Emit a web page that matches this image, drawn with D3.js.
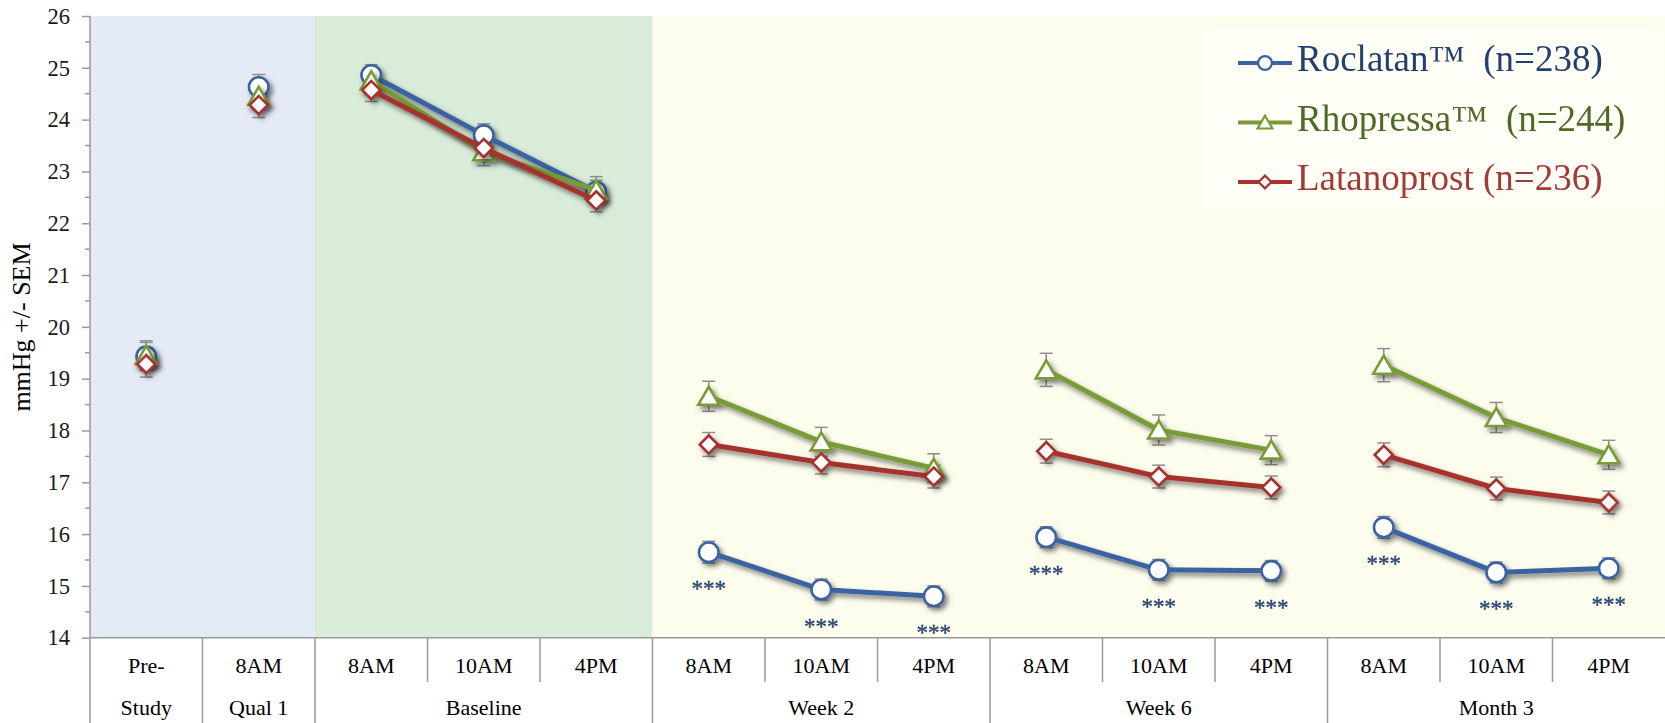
<!DOCTYPE html>
<html>
<head>
<meta charset="utf-8">
<script src="https://cdn.jsdelivr.net/npm/d3@7"></script>
<style>
  html, body { margin: 0; padding: 0; background: #ffffff; }
  svg { display: block; font-family: "Liberation Serif", "Times New Roman", serif; }
</style>
</head>
<body>
<svg id="chart" width="1665" height="723"></svg>
<script>
// category labels, first row under the axis
const categories = ['Pre-', '8AM', '8AM', '10AM', '4PM', '8AM', '10AM', '4PM',
                    '8AM', '10AM', '4PM', '8AM', '10AM', '4PM'];
// second row: group name, first and last category index
const groups = [
    { name: 'Study', from: 0, to: 0 },
    { name: 'Qual 1', from: 1, to: 1 },
    { name: 'Baseline', from: 2, to: 4 },
    { name: 'Week 2', from: 5, to: 7 },
    { name: 'Week 6', from: 8, to: 10 },
    { name: 'Month 3', from: 11, to: 13 }
];
// shaded periods behind the plot
const periods = [
    { from: 0, to: 1, color: '#e4ebf7' },
    { from: 2, to: 4, color: '#d9ebd9' },
    { from: 5, to: 13, color: '#fdfdee' }
];

const roclatan    = [19.43, 24.63, 24.86, 23.70, 22.61, 15.65, 14.93, 14.80, 15.94, 15.31, 15.29, 16.13, 15.26, 15.34];
const rhopressa   = [19.45, 24.45, 24.75, 23.38, 22.64, 18.66, 17.78, 17.27, 19.17, 18.01, 17.62, 19.26, 18.25, 17.53];
const latanoprost = [19.28, 24.28, 24.57, 23.45, 22.44, 17.73, 17.38, 17.11, 17.60, 17.11, 16.90, 17.53, 16.88, 16.61];

const semRoclatan    = [0.27, 0.24, 0.20, 0.22, 0.22, 0.21, 0.20, 0.20, 0.20, 0.20, 0.20, 0.21, 0.20, 0.20];
const semRhopressa   = [0.28, 0.26, 0.26, 0.27, 0.26, 0.29, 0.28, 0.28, 0.32, 0.29, 0.28, 0.32, 0.29, 0.28];
const semLatanoprost = [0.25, 0.24, 0.22, 0.22, 0.22, 0.23, 0.22, 0.22, 0.23, 0.22, 0.22, 0.23, 0.22, 0.22];

// categories that get "***" under the Roclatan point
const significant = [5, 6, 7, 8, 9, 10, 11, 12, 13];

const yTicks = d3.range(14, 26.01, 1);
const yMinorTicks = d3.range(14.5, 26, 1);

const series = [
    { name: 'Roclatan\u2122  (n=238)', values: roclatan, sem: semRoclatan,
      color: '#3a63a1', text: '#233f6e', symbol: 'circle' },
    { name: 'Rhopressa\u2122  (n=244)', values: rhopressa, sem: semRhopressa,
      color: '#799b37', text: '#4f6a27', symbol: 'triangle' },
    { name: 'Latanoprost (n=236)', values: latanoprost, sem: semLatanoprost,
      color: '#a6332f', text: '#a23a36', symbol: 'diamond' }
];

const svg = d3.select('#chart');
const plotLeft = 90, plotRight = 1665, plotTop = 16, plotBottom = 637.7;

const x = d3.scaleBand()
    .domain(d3.range(categories.length))
    .range([plotLeft, plotRight])
    .padding(0);
const y = d3.scaleLinear().domain([14, 26]).range([plotBottom, plotTop]);
const cx = i => x(i) + x.bandwidth() / 2;

// shadow like the office chart
const defs = svg.append('defs');
defs.append('filter')
    .attr('id', 'shadow')
    .attr('x', '-20%').attr('y', '-20%').attr('width', '140%').attr('height', '140%')
    .append('feDropShadow')
    .attr('dx', 3).attr('dy', 3.5).attr('stdDeviation', 2.6)
    .attr('flood-color', '#000').attr('flood-opacity', 0.5);

// backgrounds
svg.append('g').selectAll('rect')
    .data(periods)
    .enter().append('rect')
    .attr('x', d => x(d.from))
    .attr('y', plotTop)
    .attr('width', d => x(d.to) + x.bandwidth() - x(d.from))
    .attr('height', plotBottom - plotTop)
    .attr('fill', d => d.color);

// legend box
const legendBox = { x: 1202, y: 29, w: 461, h: 179 };
svg.append('rect')
    .attr('x', legendBox.x).attr('y', legendBox.y)
    .attr('width', legendBox.w).attr('height', legendBox.h)
    .attr('fill', '#fffff8');

// y axis
const yAxis = svg.append('g')
    .attr('transform', `translate(${plotLeft},0)`)
    .call(d3.axisLeft(y).tickValues(yTicks).tickSize(8).tickPadding(12).tickFormat(d3.format('d')));
yAxis.select('.domain').remove();
yAxis.selectAll('line').attr('stroke', '#9a9a9a').attr('stroke-width', 1.5);
yAxis.selectAll('text')
    .attr('font-size', 22.5)
    .attr('font-family', '"Liberation Serif", serif')
    .attr('fill', '#1a1a1a');

svg.append('g').selectAll('line')
    .data(yMinorTicks)
    .enter().append('line')
    .attr('x1', plotLeft - 5).attr('x2', plotLeft)
    .attr('y1', d => y(d)).attr('y2', d => y(d))
    .attr('stroke', '#9a9a9a').attr('stroke-width', 1.5);

svg.append('line')
    .attr('x1', plotLeft).attr('x2', plotLeft)
    .attr('y1', plotTop).attr('y2', 723)
    .attr('stroke', '#9a9a9a').attr('stroke-width', 1.5);

svg.append('text')
    .attr('transform', `translate(24,327) rotate(-90)`)
    .attr('text-anchor', 'middle')
    .attr('dominant-baseline', 'middle')
    .attr('font-size', 26)
    .attr('fill', '#000')
    .text('mmHg +/- SEM');

// x axis with two label rows
svg.append('line')
    .attr('x1', plotLeft).attr('x2', plotRight)
    .attr('y1', plotBottom).attr('y2', plotBottom)
    .attr('stroke', '#9a9a9a').attr('stroke-width', 1.5);

const groupStarts = groups.map(g => g.from);
svg.append('g').selectAll('line')
    .data(d3.range(1, categories.length))
    .enter().append('line')
    .attr('x1', i => x(i)).attr('x2', i => x(i))
    .attr('y1', plotBottom)
    .attr('y2', i => groupStarts.includes(i) ? 723 : 682)
    .attr('stroke', '#9a9a9a').attr('stroke-width', 1.5);

svg.append('g').selectAll('text')
    .data(categories)
    .enter().append('text')
    .attr('x', (d, i) => cx(i))
    .attr('y', 668)
    .attr('text-anchor', 'middle')
    .attr('dominant-baseline', 'middle')
    .attr('font-size', 22)
    .attr('fill', '#000')
    .text(d => d);

svg.append('g').selectAll('text')
    .data(groups)
    .enter().append('text')
    .attr('x', g => (x(g.from) + x(g.to) + x.bandwidth()) / 2)
    .attr('y', 710)
    .attr('text-anchor', 'middle')
    .attr('dominant-baseline', 'middle')
    .attr('font-size', 22)
    .attr('fill', '#000')
    .text(g => g.name);

// symbols
function symbolPath(type, scale) {
    if (type === 'circle') return d3.symbol(d3.symbolCircle, 300 * scale)();
    if (type === 'triangle') {
        const k = Math.sqrt(scale);
        return `M0,${-9.5 * k}L${10.5 * k},${8.5 * k}L${-10.5 * k},${8.5 * k}Z`;
    }
    return d3.symbol(d3.symbolSquare, 165 * scale)();
}

// error bars
const errG = svg.append('g');
series.forEach(s => {
    s.values.forEach((v, i) => {
        const e = s.sem[i];
        errG.append('line')
            .attr('x1', cx(i)).attr('x2', cx(i))
            .attr('y1', y(v + e)).attr('y2', y(v - e))
            .attr('stroke', '#8f8f8f').attr('stroke-width', 1.5);
        [v + e, v - e].forEach(t => {
            errG.append('line')
                .attr('x1', cx(i) - 6.5).attr('x2', cx(i) + 6.5)
                .attr('y1', y(t)).attr('y2', y(t))
                .attr('stroke', '#8f8f8f').attr('stroke-width', 1.5);
        });
    });
});

// lines and markers per series
const line = d3.line().x(d => cx(d.i)).y(d => y(d.v));
series.forEach(s => {
    const g = svg.append('g').attr('filter', 'url(#shadow)');
    groups.filter(gr => gr.to > gr.from).forEach(gr => {
        const pts = d3.range(gr.from, gr.to + 1).map(i => ({ i: i, v: s.values[i] }));
        g.append('path')
            .attr('d', line(pts))
            .attr('fill', 'none')
            .attr('stroke', s.color)
            .attr('stroke-width', 5)
            .attr('stroke-linejoin', 'round');
    });
    g.selectAll('path.marker')
        .data(s.values)
        .enter().append('path')
        .attr('class', 'marker')
        .attr('d', symbolPath(s.symbol, 1))
        .attr('transform', (v, i) => `translate(${cx(i)},${y(v)})` + (s.symbol === 'diamond' ? ' rotate(45)' : ''))
        .attr('fill', '#ffffff')
        .attr('stroke', s.color)
        .attr('stroke-width', 2.6);
});

// significance stars
svg.append('g').selectAll('text')
    .data(significant)
    .enter().append('text')
    .attr('x', i => cx(i))
    .attr('y', i => y(roclatan[i]) + 44)
    .attr('text-anchor', 'middle')
    .attr('font-size', 23)
    .attr('fill', '#2a4673')
    .attr('stroke', '#2a4673')
    .attr('stroke-width', 0.4)
    .text('***');

// legend
const legend = svg.append('g');
series.forEach((s, k) => {
    const ly = 63 + k * 59.5;
    legend.append('line')
        .attr('x1', 1238).attr('x2', 1292)
        .attr('y1', ly).attr('y2', ly)
        .attr('stroke', s.color).attr('stroke-width', 4);
    legend.append('path')
        .attr('d', symbolPath(s.symbol, 0.5))
        .attr('transform', `translate(1265,${ly})` + (s.symbol === 'diamond' ? ' rotate(45)' : ''))
        .attr('fill', '#ffffff')
        .attr('stroke', s.color)
        .attr('stroke-width', 2.2);
    legend.append('text')
        .attr('x', 1297)
        .attr('y', ly)
        .attr('dominant-baseline', 'middle')
        .attr('font-size', 37)
        .attr('fill', s.text)
        .attr('xml:space', 'preserve')
        .style('white-space', 'pre')
        .text(s.name);
});
</script>
</body>
</html>
